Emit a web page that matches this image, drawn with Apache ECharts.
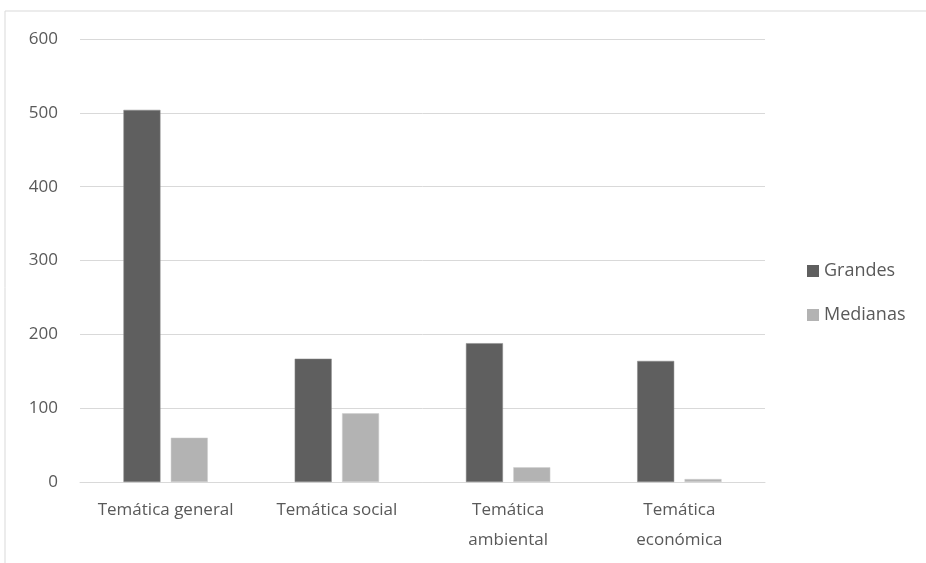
<!DOCTYPE html>
<html>
<head>
<meta charset="utf-8">
<script src="https://cdn.jsdelivr.net/npm/echarts@6/dist/echarts.min.js"></script>
<style>
  html, body { margin: 0; padding: 0; background: #fff; }
  #main { width: 926px; height: 563px; }
</style>
</head>
<body>
<div id="main"></div>
<script>
    // datos
    var categorias = ['Temática general', 'Temática social', 'Temática\nambiental', 'Temática\neconómica'];
    var grandes = [504, 167, 188, 164];
    var medianas = [60, 93, 20, 4];
    var ticksY = [0, 100, 200, 300, 400, 500, 600];

    var myChart = echarts.init(document.getElementById('main'));
    var fuente = '"Open Sans", "Liberation Sans", sans-serif';

    myChart.setOption({
        animation: false,
        backgroundColor: '#fff',
        graphic: [{
            type: 'rect',
            shape: { x: 5, y: 11, width: 940, height: 580 },
            style: { fill: 'none', stroke: '#d9d9d9', lineWidth: 1 },
            silent: true
        }],
        grid: { left: 80, right: 161, top: 39, bottom: 81 },
        legend: {
            orient: 'vertical',
            left: 802,
            top: 257,
            itemGap: 26,
            itemWidth: 12,
            itemHeight: 12,
            icon: 'rect',
            itemStyle: { borderWidth: 0 },
            textStyle: { color: '#595959', fontSize: 18, fontFamily: fuente },
            data: ['Grandes', 'Medianas']
        },
        xAxis: {
            type: 'category',
            data: categorias,
            axisLine: { lineStyle: { color: '#d9d9d9' } },
            axisTick: { show: false },
            axisLabel: { color: '#595959', fontSize: 17, fontFamily: fuente, margin: 13, lineHeight: 30, interval: 0 }
        },
        yAxis: {
            type: 'value',
            min: ticksY[0],
            max: ticksY[ticksY.length - 1],
            interval: 100,
            axisLine: { show: false },
            axisTick: { show: false },
            splitLine: { lineStyle: { color: '#d9d9d9' } },
            axisLabel: { color: '#595959', fontSize: 17, fontFamily: fuente, margin: 22 }
        },
        series: [
            {
                name: 'Grandes',
                type: 'bar',
                data: grandes,
                barWidth: 37,
                barGap: '28%',
                itemStyle: { color: '#5f5f5f', borderColor: '#8a8a8a', borderWidth: 0.5 }
            },
            {
                name: 'Medianas',
                type: 'bar',
                data: medianas,
                barWidth: 37,
                itemStyle: { color: '#b3b3b3', borderColor: '#cfcfcf', borderWidth: 0.5 }
            }
        ]
    });
</script>
</body>
</html>
